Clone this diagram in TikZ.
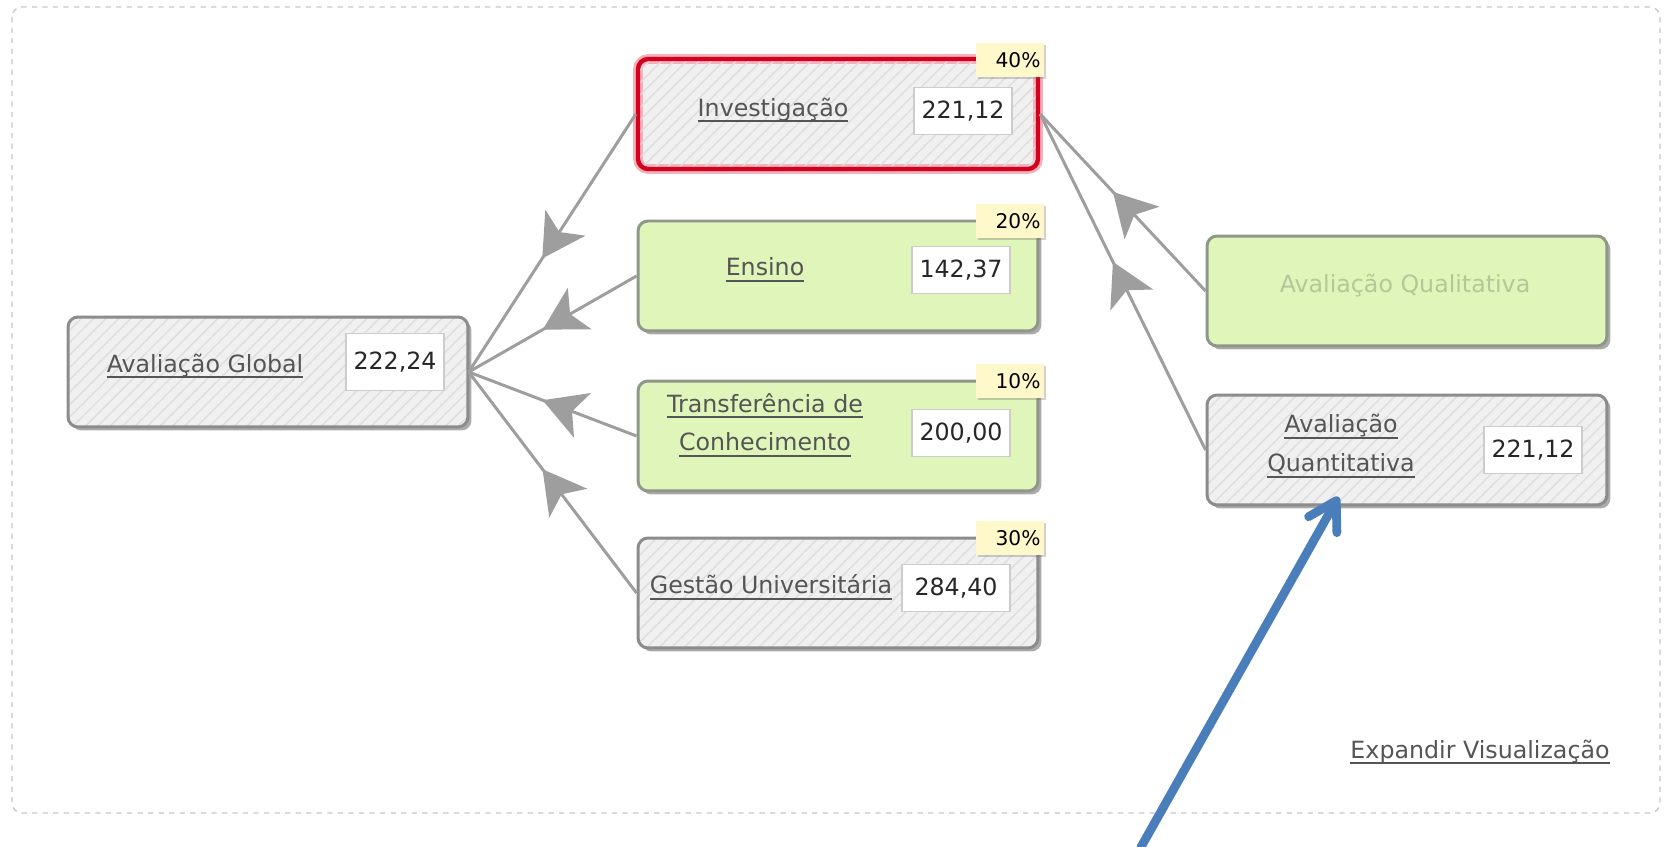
\documentclass[tikz,border=0pt]{standalone}
\usepackage{fontspec}
\setmainfont{DejaVu Sans}
\usetikzlibrary{arrows.meta,shadows,patterns.meta,decorations.markings}

\definecolor{txtgray}{HTML}{555555}
\definecolor{boxgray}{HTML}{8C8C8C}
\definecolor{greenfill}{HTML}{E0F5BA}
\definecolor{greenline}{HTML}{8F978A}
\definecolor{alertred}{HTML}{D6001C}
\definecolor{tagyellow}{HTML}{FFF8CA}
\definecolor{linkgray}{HTML}{9E9E9E}
\definecolor{qualigreen}{HTML}{B3C898}
\definecolor{pointblue}{HTML}{4A7EBB}

\newcommand{\lnk}[1]{\setbox0=\hbox{#1}\rlap{\rule[-3.5pt]{\wd0}{1.1pt}}\box0}

\begin{document}
\begin{tikzpicture}[
  x=0.02cm, y=-0.02cm,
  box/.style={rectangle, rounded corners=0.2cm, line width=1.7pt, minimum width=8cm, minimum height=2.2cm,
    drop shadow={shadow xshift=0.07cm, shadow yshift=-0.07cm, opacity=0.55, fill=black!60}},
  grey/.style={box, draw=boxgray, preaction={fill=black!6},
    pattern={Lines[angle=45, distance=5pt, line width=0.8pt]}, pattern color=black!13},
  green/.style={box, draw=greenline, fill=greenfill},
  invest/.style={grey, draw=alertred, line width=2.5pt, preaction={draw=alertred!30, line width=5.5pt}},
  lbl/.style={font=\fontsize{13.5}{22}\selectfont, text=txtgray, align=center, inner sep=0pt},
  val/.style={draw=black!20, fill=white, line width=0.6pt, minimum width=1.96cm, minimum height=0.95cm,
    font=\fontsize{13.5}{16}\selectfont, text=black!85, inner sep=2pt},
  tag/.style={fill=tagyellow, minimum height=0.68cm, text width=1.22cm, inner xsep=0.07cm, inner ysep=1pt,
    align=right, font=\fontsize{11.5}{13}\selectfont,
    drop shadow={shadow xshift=0.04cm, shadow yshift=-0.04cm, opacity=0.3, fill=black!60}},
  link/.style={draw=linkgray, line width=1.7pt, postaction={decorate},
    decoration={markings, mark=at position 0.56 with {\arrow[linkgray]{Stealth[length=0.85cm, width=0.95cm, inset=0.22cm]}}}},
  pointer/.style={draw=pointblue, line width=5pt, line cap=round, -{Straight Barb[round, length=0.55cm, width=0.65cm]}},
  frame/.style={draw=black!22, dashed, line width=0.8pt, rounded corners=0.2cm}
]
\useasboundingbox (0,0) rectangle (1667,847);

% Panel
\draw[frame] (12,7) rectangle (1660,813);

% Root
\node[grey] (global) at (268,372) {};
\node[lbl] (globaltxt) at (205,366) {\lnk{Avaliação Global}};
\node[val, minimum height=1.14cm] (globalval) at (395,362) {222,24};

% Criteria
\node[invest] (invest) at (838,114) {};
\node[lbl] (investtxt) at (773,110) {\lnk{Investigação}};
\node[val] (investval) at (963,111) {221,12};
\node[tag] (investtag) at (1010,60) {40\%};

\node[green] (ensino) at (838,276) {};
\node[lbl] (ensinotxt) at (765,270) {\lnk{Ensino}};
\node[val] (ensinoval) at (961,270) {142,37};
\node[tag] (ensinotag) at (1010,221) {20\%};

\node[green] (transf) at (838,436) {};
\node[lbl] (transftxt) at (765,425) {\lnk{Transferência de}\\\lnk{Conhecimento}};
\node[val] (transfval) at (961,433) {200,00};
\node[tag] (transftag) at (1010,381) {10\%};

\node[grey] (gestao) at (838,593) {};
\node[lbl] (gestaotxt) at (771,587) {\lnk{Gestão Universitária}};
\node[val, minimum width=2.16cm] (gestaoval) at (956,588) {284,40};
\node[tag] (gestaotag) at (1010,538) {30\%};

% Sub-criteria
\node[green] (quali) at (1407,291) {};
\node[lbl, text=qualigreen] (qualitxt) at (1405,286) {Avaliação Qualitativa};

\node[grey] (quanti) at (1407,450) {};
\node[lbl] (quantitxt) at (1341,446) {\lnk{Avaliação}\\\lnk{Quantitativa}};
\node[val] (quantival) at (1533,450) {221,12};

% Links
\draw[link] (invest.west) -- (global.east);
\draw[link] (ensino.west) -- (global.east);
\draw[link] (transf.west) -- (global.east);
\draw[link] (gestao.west) -- (global.east);
\draw[link] (quali.west) -- (invest.east);
\draw[link] (quanti.west) -- (invest.east);

% Footer
\node[lbl] (expand) at (1480,752) {\lnk{Expandir Visualização}};

% Pointer
\coordinate (pointerend) at (1141,847);
\draw[pointer, shorten >=-0.22cm] (pointerend) -- ([xshift=-0.16cm]quanti.south -| quantitxt);

\end{tikzpicture}
\end{document}
